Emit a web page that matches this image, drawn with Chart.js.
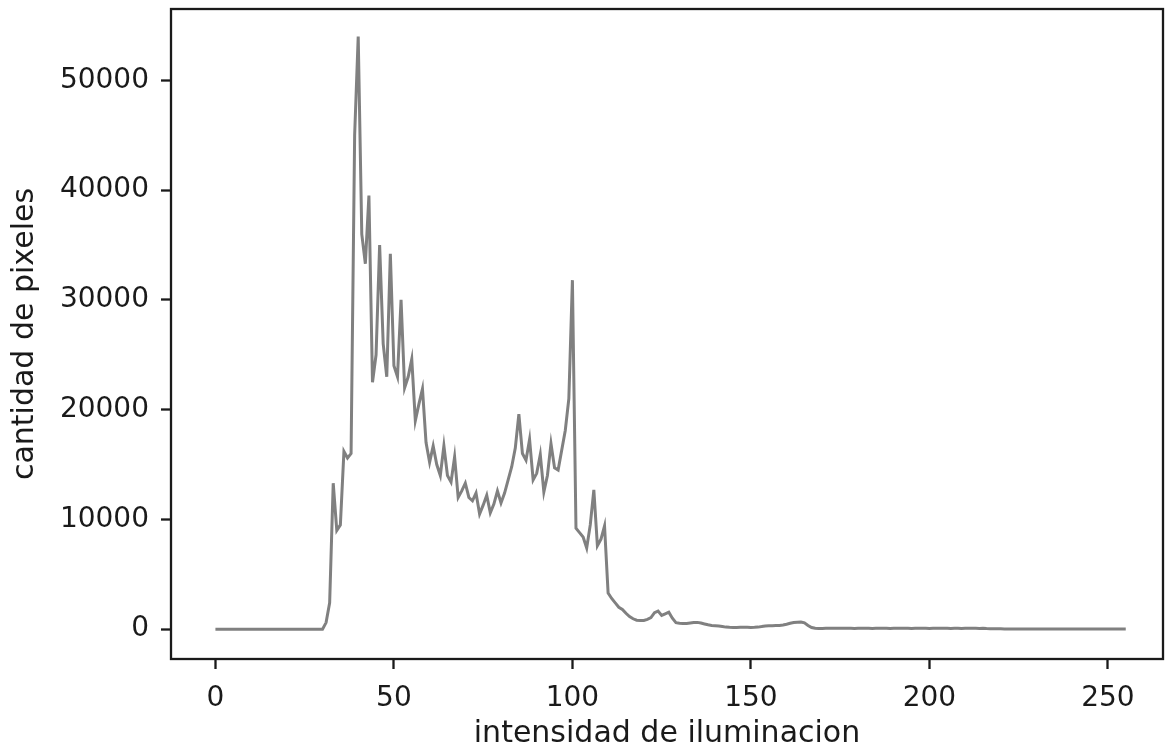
<!DOCTYPE html>
<html>
<head>
<meta charset="utf-8">
<script src="https://cdn.jsdelivr.net/npm/chart.js@4.4.0/dist/chart.umd.min.js"></script>
<style>
  html, body { margin: 0; padding: 0; background: #fff; }
  canvas { display: block; }
</style>
</head>
<body>
<canvas id="histo" width="1165" height="751"></canvas>
<script>
// niveles de intensidad 0..255 y conteo de pixeles
const intensidad = [
  0, 1, 2, 3, 4, 5, 6, 7, 8, 9, 10, 11, 12, 13, 14, 15,
  16, 17, 18, 19, 20, 21, 22, 23, 24, 25, 26, 27, 28, 29, 30, 31,
  32, 33, 34, 35, 36, 37, 38, 39, 40, 41, 42, 43, 44, 45, 46, 47,
  48, 49, 50, 51, 52, 53, 54, 55, 56, 57, 58, 59, 60, 61, 62, 63,
  64, 65, 66, 67, 68, 69, 70, 71, 72, 73, 74, 75, 76, 77, 78, 79,
  80, 81, 82, 83, 84, 85, 86, 87, 88, 89, 90, 91, 92, 93, 94, 95,
  96, 97, 98, 99, 100, 101, 102, 103, 104, 105, 106, 107, 108, 109, 110, 111,
  112, 113, 114, 115, 116, 117, 118, 119, 120, 121, 122, 123, 124, 125, 126, 127,
  128, 129, 130, 131, 132, 133, 134, 135, 136, 137, 138, 139, 140, 141, 142, 143,
  144, 145, 146, 147, 148, 149, 150, 151, 152, 153, 154, 155, 156, 157, 158, 159,
  160, 161, 162, 163, 164, 165, 166, 167, 168, 169, 170, 171, 172, 173, 174, 175,
  176, 177, 178, 179, 180, 181, 182, 183, 184, 185, 186, 187, 188, 189, 190, 191,
  192, 193, 194, 195, 196, 197, 198, 199, 200, 201, 202, 203, 204, 205, 206, 207,
  208, 209, 210, 211, 212, 213, 214, 215, 216, 217, 218, 219, 220, 221, 222, 223,
  224, 225, 226, 227, 228, 229, 230, 231, 232, 233, 234, 235, 236, 237, 238, 239,
  240, 241, 242, 243, 244, 245, 246, 247, 248, 249, 250, 251, 252, 253, 254, 255
];

const pixeles = [
  0, 0, 0, 0, 0, 0, 0, 0, 0, 0, 0, 0, 0, 0, 0, 0,
  0, 0, 0, 0, 0, 0, 0, 0, 0, 0, 0, 0, 0, 0, 0, 600,
  2400, 13300, 9000, 9500, 16200, 15600, 16000, 45000, 54000, 36000, 33300, 39500, 22500, 25000, 35000, 26000,
  23000, 34200, 24000, 23000, 30000, 22000, 23000, 24600, 19000, 20500, 21900, 17000, 15200, 16700, 15000, 14000,
  16700, 14000, 13400, 15700, 12000, 12600, 13300, 12000, 11700, 12400, 10500, 11300, 12200, 10600, 11400, 12600,
  11500, 12400, 13600, 14800, 16500, 19600, 16000, 15400, 17300, 13600, 14200, 15900, 12500, 14000, 16900, 14700,
  14500, 16300, 18100, 21000, 31800, 9200, 8800, 8400, 7400, 9500, 12700, 7600, 8200, 9400, 3300, 2800,
  2400, 2000, 1800, 1450, 1150, 950, 820, 790, 800, 900, 1050, 1500, 1650, 1250, 1400, 1550,
  1000, 600, 550, 520, 520, 560, 600, 620, 560, 480, 400, 340, 320, 300, 250, 190,
  170, 160, 160, 170, 180, 170, 160, 170, 190, 240, 300, 320, 320, 330, 340, 380,
  450, 540, 610, 640, 650, 580, 340, 150, 80, 60, 70, 80, 80, 90, 80, 80,
  80, 90, 80, 70, 80, 90, 80, 80, 70, 80, 90, 80, 80, 70, 80, 80,
  80, 90, 80, 70, 80, 80, 90, 80, 70, 80, 80, 90, 80, 80, 70, 80,
  80, 70, 80, 80, 90, 80, 70, 80, 60, 50, 40, 30, 30, 20, 20, 20,
  20, 20, 20, 20, 20, 20, 20, 20, 20, 20, 20, 20, 20, 20, 20, 20,
  20, 20, 20, 20, 20, 20, 20, 20, 20, 20, 20, 20, 20, 20, 20, 20
];

const xTicks = [0, 50, 100, 150, 200, 250];
const yTicks = [0, 10000, 20000, 30000, 40000, 50000];

const ink = '#1a1a1a';
const font = 'DejaVu Sans';

// marco completo alrededor del area del grafico (estilo matplotlib)
const framePlugin = {
  id: 'frame',
  afterDatasetsDraw(chart) {
    const { ctx, chartArea: a } = chart;
    ctx.save();
    ctx.strokeStyle = ink;
    ctx.lineWidth = 2.3;
    ctx.strokeRect(a.left, a.top, a.right - a.left, a.bottom - a.top);
    ctx.restore();
  }
};

const ctx = document.getElementById('histo').getContext('2d');

new Chart(ctx, {
  type: 'line',
  data: {
    datasets: [{
      data: intensidad.map((x, i) => ({ x: x, y: pixeles[i] })),
      borderColor: '#808080',
      borderWidth: 3,
      pointRadius: 0,
      tension: 0,
      fill: false
    }]
  },
  options: {
    responsive: false,
    animation: false,
    devicePixelRatio: 1,
    layout: { padding: { top: 9, right: 2, left: 0, bottom: 0 } },
    plugins: {
      legend: { display: false },
      tooltip: { enabled: false }
    },
    scales: {
      x: {
        type: 'linear',
        min: -12.44,
        max: 265.43,
        afterFit: (scale) => {
          scale.height = 92;
          scale.paddingLeft = 0;
          scale.paddingRight = 0;
        },
        afterBuildTicks: (scale) => { scale.ticks = xTicks.map(v => ({ value: v })); },
        border: { display: false },
        grid: {
          drawOnChartArea: false,
          drawTicks: true,
          tickLength: 10,
          tickWidth: 2.3,
          tickColor: ink
        },
        ticks: {
          color: ink,
          padding: 13,
          maxRotation: 0,
          font: { family: font, size: 28 }
        },
        title: {
          display: true,
          text: 'intensidad de iluminacion',
          color: ink,
          padding: { top: 0, bottom: -1 },
          font: { family: font, size: 30 }
        }
      },
      y: {
        type: 'linear',
        min: -2715,
        max: 56505,
        afterFit: (scale) => {
          scale.width = 171;
          scale.paddingTop = 0;
          scale.paddingBottom = 0;
        },
        afterBuildTicks: (scale) => { scale.ticks = yTicks.map(v => ({ value: v })); },
        border: { display: false },
        grid: {
          drawOnChartArea: false,
          drawTicks: true,
          tickLength: 10,
          tickWidth: 2.3,
          tickColor: ink
        },
        ticks: {
          color: ink,
          padding: 12,
          font: { family: font, size: 28 },
          callback: (v) => String(v)
        },
        title: {
          display: true,
          text: 'cantidad de pixeles',
          color: ink,
          padding: { top: 7, bottom: 0 },
          font: { family: font, size: 30 }
        }
      }
    }
  },
  plugins: [framePlugin]
});
</script>
</body>
</html>
